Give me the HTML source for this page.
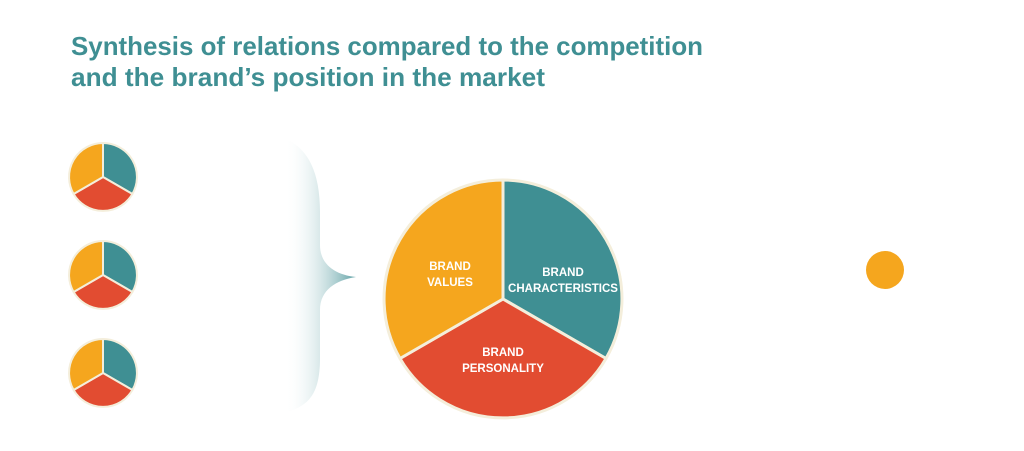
<!DOCTYPE html>
<html><head><meta charset="utf-8"><style>
html,body{margin:0;padding:0;background:#fff;}
svg{display:block}
</style></head><body>
<svg width="1024" height="451" viewBox="0 0 1024 451" xmlns="http://www.w3.org/2000/svg">
<defs>
<linearGradient id="g" x1="285" y1="0" x2="356" y2="0" gradientUnits="userSpaceOnUse">
<stop offset="0" stop-color="#ffffff" stop-opacity="0"/>
<stop offset="1" stop-color="#4f979c" stop-opacity="0.9"/>
</linearGradient>
</defs>
<g font-family="'Liberation Sans', sans-serif" font-weight="bold" fill="#3f8f93" font-size="26">
<text x="71" y="55" textLength="632" lengthAdjust="spacingAndGlyphs">Synthesis of relations compared to the competition</text>
<text x="71" y="86" textLength="474" lengthAdjust="spacingAndGlyphs">and the brand’s position in the market</text>
</g>
<path d="M288 140 C308 150 320 172 320 212 L320 245 C320 265 336 275 356 277 C336 280 320 290 320 310 L320 358 C320 395 308 405 288 412 Z" fill="url(#g)"/>
<g stroke="#f4eedb" stroke-width="3" stroke-linejoin="round">
<path d="M503 299 L503 180 A119 119 0 0 1 606 358.5 Z" fill="#3f8f93"/>
<path d="M503 299 L606 358.5 A119 119 0 0 1 400 358.5 Z" fill="#e24c31"/>
<path d="M503 299 L400 358.5 A119 119 0 0 1 503 180 Z" fill="#f5a61e"/>
</g>
<g font-family="'Liberation Sans', sans-serif" font-weight="bold" fill="#fff" font-size="11.5" text-anchor="middle">
<text x="450" y="270">BRAND</text><text x="450" y="286">VALUES</text>
<text x="563" y="276">BRAND</text><text x="563" y="292">CHARACTERISTICS</text>
<text x="503" y="356">BRAND</text><text x="503" y="372">PERSONALITY</text>
</g>
<g stroke="#f4eedb" stroke-width="2" stroke-linejoin="round">
<g transform="translate(103,177)">
<path d="M0 0 L0 -34 A34 34 0 0 1 29.4 17 Z" fill="#3f8f93"/>
<path d="M0 0 L29.4 17 A34 34 0 0 1 -29.4 17 Z" fill="#e24c31"/>
<path d="M0 0 L-29.4 17 A34 34 0 0 1 0 -34 Z" fill="#f5a61e"/>
</g>
<g transform="translate(103,275)">
<path d="M0 0 L0 -34 A34 34 0 0 1 29.4 17 Z" fill="#3f8f93"/>
<path d="M0 0 L29.4 17 A34 34 0 0 1 -29.4 17 Z" fill="#e24c31"/>
<path d="M0 0 L-29.4 17 A34 34 0 0 1 0 -34 Z" fill="#f5a61e"/>
</g>
<g transform="translate(103,373)">
<path d="M0 0 L0 -34 A34 34 0 0 1 29.4 17 Z" fill="#3f8f93"/>
<path d="M0 0 L29.4 17 A34 34 0 0 1 -29.4 17 Z" fill="#e24c31"/>
<path d="M0 0 L-29.4 17 A34 34 0 0 1 0 -34 Z" fill="#f5a61e"/>
</g>
</g>
<circle cx="885" cy="270" r="19" fill="#f5a61e"/>
</svg>
</body></html>
